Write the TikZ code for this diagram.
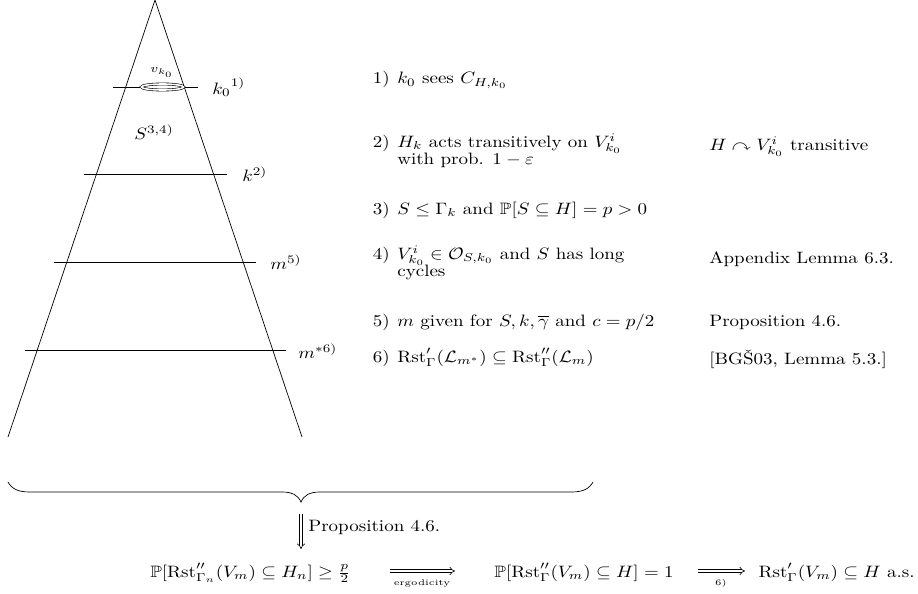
\documentclass[tikz,border=0pt]{standalone}
\usepackage{amsmath,amssymb,graphicx}
\usetikzlibrary{arrows.meta}
\newcommand\hsc{1.9}
\newcommand\vsc{1.65}
\newcommand\sbx[1]{\scalebox{\hsc}[\vsc]{#1}}
\begin{document}
\begin{tikzpicture}[x=1pt,y=-1pt,line width=0.7pt,
  txt/.style={inner sep=0pt,anchor=base west},
  txtr/.style={inner sep=0pt,anchor=base east},
  txtc/.style={inner sep=0pt,anchor=base},
  imp/.style={double,double distance=2.2pt,line width=0.6pt,-{Implies}},
  ring/.style={double,double distance=1.6pt,line width=0.6pt,fill=white}]
\useasboundingbox (0,0) rectangle (918,594);
% cone
\coordinate (apex) at (155,0);
\coordinate (bl) at (8,437);
\coordinate (br) at (302,437);
\draw (bl) -- (apex) -- (br);
% levels
\coordinate (k0l) at (113,87);  \coordinate (k0r) at (198,87);
\coordinate (kl) at (84,174);   \coordinate (kr) at (227,174);
\coordinate (ml) at (54,262);   \coordinate (mr) at (256,262);
\coordinate (msl) at (25,350);  \coordinate (msr) at (286,350);
\draw (k0l) -- (k0r);
\draw (kl) -- (kr);
\draw (ml) -- (mr);
\draw (msl) -- (msr);
\draw[ring] (162.5,87) ellipse [x radius=21,y radius=3];
\node[txtc] (vk) at (162,73) {\sbx{\scriptsize$v_{k_0}$}};
\node[txt] (lk0) at (212,94) {\sbx{${k_0}^{1)}$}};
\node[txt] (S) at (134,139) {\sbx{$S^{3,4)}$}};
\node[txt] (lk) at (242,181) {\sbx{$k^{2)}$}};
\node[txt] (lm) at (270,269) {\sbx{$m^{5)}$}};
\node[txt] (lms) at (298,358) {\sbx{$m^{*6)}$}};
% list
\node[txtr] (n1) at (390,84) {\sbx{1)}};
\node[txt] (t1) at (397,84) {\sbx{$k_0$ sees $C_{H,k_0}$}};
\node[txtr] (n2) at (390,147) {\sbx{2)}};
\node[txt] (t2a) at (397,147) {\sbx{$H_k$ acts transitively on $V^i_{k_0}$}};
\node[txt] (t2b) at (397,164) {\sbx{with prob. $1-\varepsilon$}};
\node[txtr] (n3) at (390,214) {\sbx{3)}};
\node[txt] (t3) at (397,214) {\sbx{$S\leq\Gamma_k$ and $\mathbb{P}[S\subseteq H]=p>0$}};
\node[txtr] (n4) at (390,259) {\sbx{4)}};
\node[txt] (t4a) at (397,259) {\sbx{$V^i_{k_0}\in\mathcal{O}_{S,k_0}$ and $S$ has long}};
\node[txt] (t4b) at (397,276) {\sbx{cycles}};
\node[txtr] (n5) at (390,326) {\sbx{5)}};
\node[txt] (t5) at (397,326) {\sbx{$m$ given for $S,k,\overline{\gamma}$ and $c=p/2$}};
\node[txtr] (n6) at (390,362) {\sbx{6)}};
\node[txt] (t6) at (397,362) {\sbx{$\mathrm{Rst}'_\Gamma(\mathcal{L}_{m^*})\subseteq\mathrm{Rst}''_\Gamma(\mathcal{L}_m)$}};
% references
\node[txt] (r2) at (709,150) {\sbx{$H\curvearrowright V^i_{k_0}$ transitive}};
\node[txt] (r4) at (709,263) {\sbx{Appendix Lemma 6.3.}};
\node[txt] (r5) at (709,326) {\sbx{Proposition 4.6.}};
\node[txt] (r6) at (709,364) {\sbx{[BG\v{S}03, Lemma 5.3.]}};
% brace
\coordinate (bs) at (8,482);
\coordinate (bracetip) at (301,502);
\coordinate (be) at (593,482);
\draw (bs) .. controls (12,489) and (18,492) .. (30,492) -- (282,492)
  .. controls (292,492) and (298,495) .. (bracetip)
  .. controls (304,495) and (310,492) .. (320,492) -- (571,492)
  .. controls (583,492) and (589,489) .. (be);
% bottom formulas
\node[txt] (F1) at (150,577) {\sbx{$\mathbb{P}[\mathrm{Rst}''_{\Gamma_n}(V_m)\subseteq H_n]\geq\frac{p}{2}$}};
\node[txtc] (F2) at (584,577) {\sbx{$\mathbb{P}[\mathrm{Rst}''_{\Gamma}(V_m)\subseteq H]=1$}};
\node[txtr] (F3) at (915,577) {\sbx{$\mathrm{Rst}'_{\Gamma}(V_m)\subseteq H$ a.s.}};
\coordinate (va) at (301,549);
\draw[imp] ([yshift=-12pt]bracetip) -- (va);
\node[txt] (prop) at (308,531) {\sbx{Proposition 4.6.}};
\coordinate (a1s) at (390,571); \coordinate (a1e) at (455,571);
\coordinate (a2s) at (698,571); \coordinate (a2e) at (745,571);
\draw[imp] (a1s) -- (a1e);
\draw[imp] (a2s) -- (a2e);
\node[txtc] (erg) at (422,585) {\sbx{\tiny ergodicity}};
\node[txtc] (six) at (721,585) {\sbx{\tiny 6)}};
\end{tikzpicture}
\end{document}
